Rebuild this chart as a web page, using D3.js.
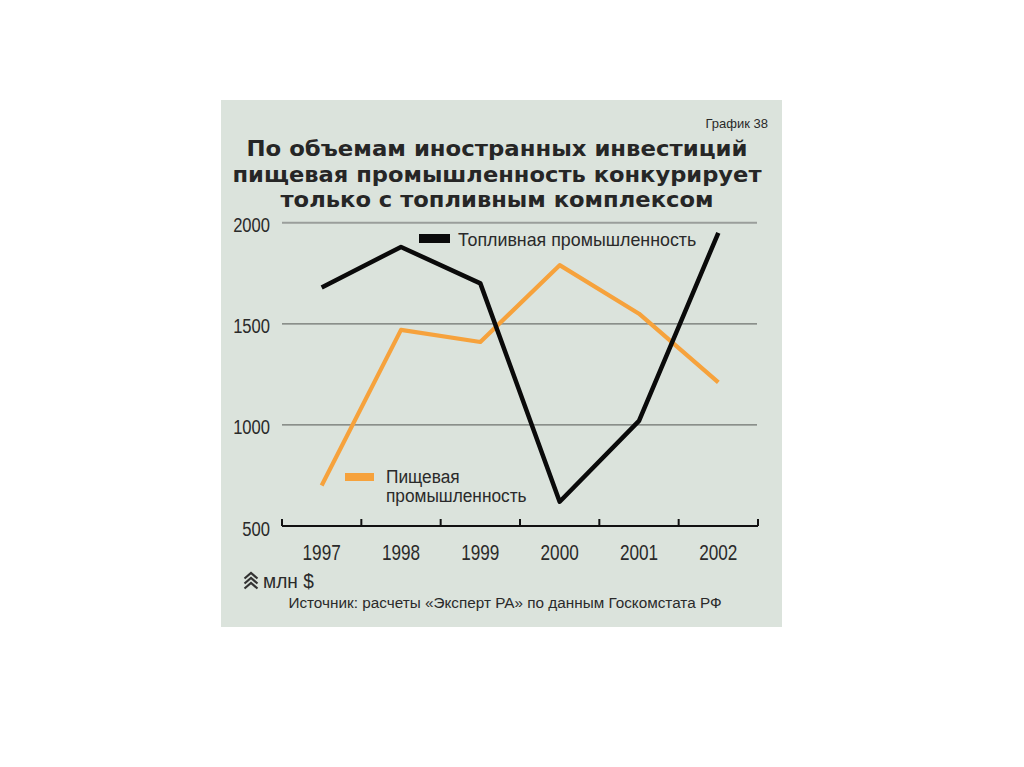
<!DOCTYPE html>
<html>
<head>
<meta charset="utf-8">
<script src="https://cdn.jsdelivr.net/npm/d3@7"></script>
<style>
  body { margin: 0; background: #fff; }
  svg text { font-family: "Liberation Sans", Arial, sans-serif; }
</style>
</head>
<body>
<div id="chart"></div>
<script>
const years = ["1997", "1998", "1999", "2000", "2001", "2002"]
const fuel = [1680, 1880, 1700, 620, 1020, 1950]
const food = [700, 1470, 1410, 1790, 1550, 1210]
const yTicks = [500, 1000, 1500, 2000]
const titleLines = ["По объемам иностранных инвестиций", "пищевая промышленность конкурирует", "только с топливным комплексом"]
const fuelName = "Топливная промышленность"
const foodName = ["Пищевая", "промышленность"]

const width = 1024, height = 767
const panel = {x: 221, y: 100, w: 561, h: 527}
const plot = {left: 282, right: 758, top: 222.7, bottom: 526}
const textColor = "#2a2a2a"

const svg = d3.select("#chart").append("svg")
    .attr("width", width)
    .attr("height", height)

svg.append("rect")
    .attr("x", panel.x).attr("y", panel.y)
    .attr("width", panel.w).attr("height", panel.h)
    .attr("fill", "#dbe3dc")

const xScale = d3.scaleBand().domain(years).range([plot.left, plot.right])
const yScale = d3.scaleLinear().domain([500, 2000]).range([plot.bottom, plot.top])

// narrow text: draw at origin, then squeeze horizontally
function narrowText(x, y, str, size, sx, anchor) {
    return svg.append("text")
        .attr("transform", "translate(" + x + "," + y + ") scale(" + sx + ",1)")
        .attr("text-anchor", anchor || "start")
        .attr("font-size", size)
        .attr("fill", textColor)
        .text(str)
}

// header
narrowText(768, 128, "График 38", 13, 1, "end")

const titleWidths = [501, 529, 433]
svg.append("g").selectAll("text")
    .data(titleLines)
    .enter().append("text")
    .attr("x", 497)
    .attr("y", (d, i) => 156 + i * 25.7)
    .attr("text-anchor", "middle")
    .attr("font-size", 21.5)
    .attr("font-weight", "bold")
    .attr("textLength", (d, i) => titleWidths[i])
    .attr("lengthAdjust", "spacingAndGlyphs")
    .style("font-family", "'DejaVu Sans', 'Liberation Sans', sans-serif")
    .attr("fill", "#262626")
    .text(d => d)

// grid
svg.append("g").selectAll("line")
    .data(yTicks.filter(d => d > 500))
    .enter().append("line")
    .attr("x1", plot.left).attr("x2", plot.right - 1)
    .attr("y1", d => yScale(d)).attr("y2", d => yScale(d))
    .attr("stroke", d => d == 2000 ? "#9a9e9b" : "#6f736f")
    .attr("stroke-width", d => d == 2000 ? 2 : 1.3)

// y labels
yTicks.forEach(d => {
    narrowText(270, yScale(d) + 9.5, d, 21, 0.79, "end")
})

// x axis
const xAxis = d3.axisBottom(xScale).tickSize(0).tickPadding(18)
const gx = svg.append("g")
    .attr("transform", "translate(0," + plot.bottom + ")")
    .call(xAxis)
gx.select(".domain").remove()
gx.selectAll("text")
    .attr("font-size", 22)
    .attr("fill", textColor)
    .attr("transform", "scale(0.78,1)")

svg.append("line")
    .attr("x1", plot.left).attr("x2", plot.right)
    .attr("y1", plot.bottom).attr("y2", plot.bottom)
    .attr("stroke", "#111").attr("stroke-width", 2)

const bounds = years.map(d => xScale(d)).concat([plot.right])
svg.append("g").selectAll("line")
    .data(bounds)
    .enter().append("line")
    .attr("x1", d => d).attr("x2", d => d)
    .attr("y1", plot.bottom).attr("y2", plot.bottom - 7)
    .attr("stroke", "#111").attr("stroke-width", 2)

// lines
const line = d3.line()
    .x((d, i) => xScale(years[i]) + xScale.bandwidth() / 2)
    .y(d => yScale(d))

svg.append("path")
    .datum(food)
    .attr("d", line)
    .attr("fill", "none")
    .attr("stroke", "#f6a23c")
    .attr("stroke-width", 4.2)
    .attr("stroke-linejoin", "round")

svg.append("path")
    .datum(fuel)
    .attr("d", line)
    .attr("fill", "none")
    .attr("stroke", "#0a0a0a")
    .attr("stroke-width", 4.5)
    .attr("stroke-linejoin", "round")

// legends
svg.append("rect")
    .attr("x", 419).attr("y", 234)
    .attr("width", 31).attr("height", 9)
    .attr("fill", "#0a0a0a")
narrowText(458, 245.5, fuelName, 18, 0.99)

svg.append("rect")
    .attr("x", 345).attr("y", 473)
    .attr("width", 29).attr("height", 8)
    .attr("fill", "#f6a23c")
foodName.forEach((d, i) => {
    narrowText(386, 483 + i * 19, d, 18, 0.96)
})

// units
const icon = svg.append("g").attr("transform", "translate(251,580)")
;[-5, 0, 5].forEach(dy => {
    icon.append("path")
        .attr("d", "M-6.5," + (dy + 3.5) + " L0," + (dy - 2) + " L6.5," + (dy + 3.5))
        .attr("fill", "none")
        .attr("stroke", "#333")
        .attr("stroke-width", 2.2)
})
narrowText(263, 588, "млн $", 19.5, 0.98)

narrowText(505, 608, "Источник: расчеты «Эксперт РА» по данным Госкомстата РФ", 15.3, 1, "middle")
</script>
</body>
</html>
